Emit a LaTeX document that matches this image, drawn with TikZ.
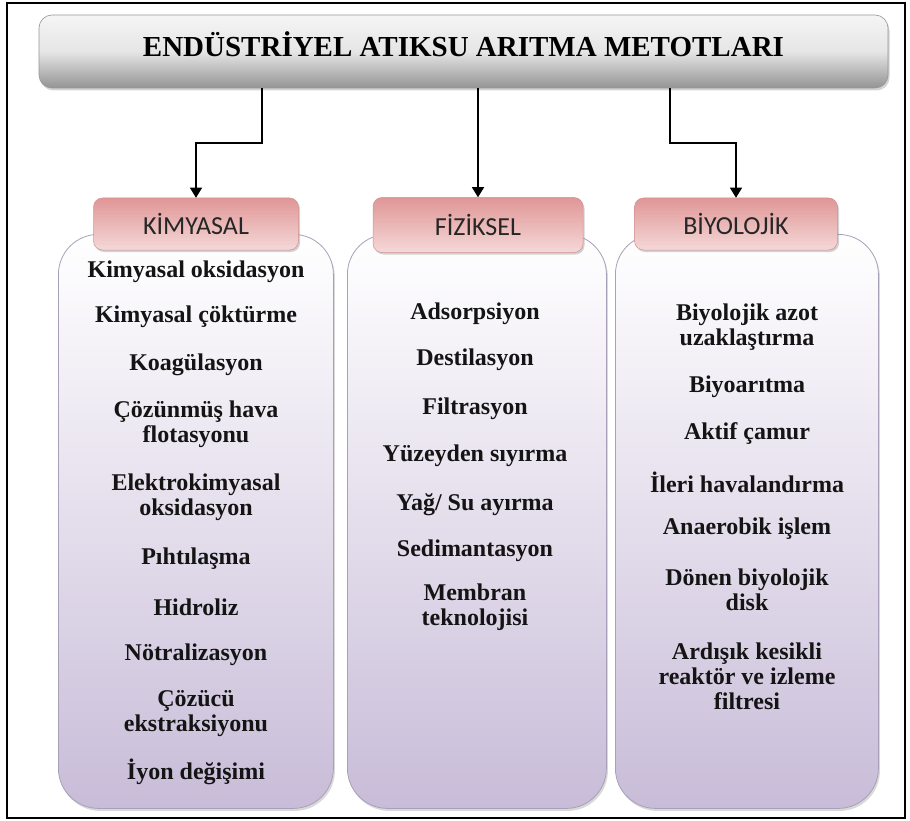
\documentclass[tikz,border=0pt]{standalone}
\usepackage{fontspec}
\setmainfont{Liberation Serif}
\newfontfamily\tabfont{Carlito}
\usetikzlibrary{shadows,arrows.meta}
\definecolor{lav}{RGB}{200,188,216}
\definecolor{lavmid}{RGB}{228,222,236}
\definecolor{lavline}{RGB}{168,160,184}
\definecolor{pinkA}{RGB}{224,150,150}
\definecolor{pinkB}{RGB}{245,216,216}
\definecolor{pinkline}{RGB}{210,145,145}
\definecolor{titleline}{RGB}{150,150,150}
\begin{document}
\begin{tikzpicture}[x=1pt,y=-1pt,
  frame/.style={draw=black,line width=1.1pt},
  titlebox/.style={draw=titleline,line width=0.6pt,rounded corners=13pt,
    top color=black!4,bottom color=black!42,middle color=black!10,
    drop shadow={shadow xshift=1.5pt,shadow yshift=-2.5pt,opacity=0.35},
    inner sep=0pt},
  colbox/.style={draw=lavline,line width=0.8pt,rounded corners=40pt,
    top color=white,bottom color=lav,middle color=lavmid,
    drop shadow={shadow xshift=1.5pt,shadow yshift=-2.5pt,opacity=0.3},
    inner sep=0pt},
  tabbox/.style={draw=pinkline,line width=0.5pt,rounded corners=9pt,
    top color=pinkA,bottom color=pinkB,
    drop shadow={shadow xshift=1.5pt,shadow yshift=-2pt,opacity=0.35},
    font=\tabfont\fontsize{26}{28}\selectfont,text=black!85,inner sep=0pt},
  item/.style={font=\fontsize{24}{25}\selectfont\bfseries,align=center,inner sep=0pt,text=black!92},
  arr/.style={draw=black,line width=1.2pt,-{Triangle[width=12pt,length=10pt]}}
]
\useasboundingbox (0,0) rectangle (910,821);
\draw[frame] (7,3) rectangle (905,818);

% title
\node[titlebox,minimum width=849pt,minimum height=73pt,text height=20pt] (title) at (463.5,51.5)
  {\raisebox{5pt}{\fontsize{29}{32}\selectfont\bfseries ENDÜSTRİYEL ATIKSU ARITMA METOTLARI}};

% columns
\node[colbox,anchor=north west,minimum width=275pt,minimum height=574pt] (colK) at (58,234) {};
\node[colbox,anchor=north west,minimum width=259pt,minimum height=574pt] (colF) at (347,234) {};
\node[colbox,anchor=north west,minimum width=263pt,minimum height=574pt] (colB) at (615,234) {};

% tabs
\node[tabbox,minimum width=205pt,minimum height=52pt] (kim) at (196,224) {KİMYASAL};
\node[tabbox,minimum width=210pt,minimum height=55pt] (fiz) at (478,225) {FİZİKSEL};
\node[tabbox,minimum width=203pt,minimum height=52pt] (bio) at (736,224) {BİYOLOJİK};

% connectors
\coordinate (bk) at (262,143);
\coordinate (bb) at (670,143);
\draw[arr] (title.south -| bk) -- (bk) -| (kim.north);
\draw[arr] (title.south -| fiz.north) -- (fiz.north);
\draw[arr] (title.south -| bb) -- (bb) -| (bio.north);

% left items
\node[item] (k1) at (196,272) {Kimyasal oksidasyon};
\node[item] (k2) at (196,317) {Kimyasal çöktürme};
\node[item] (k3) at (196,365) {Koagülasyon};
\node[item] (k4) at (196,424.5) {Çözünmüş hava\\flotasyonu};
\node[item] (k5) at (196,497.5) {Elektrokimyasal\\oksidasyon};
\node[item] (k6) at (196,559) {Pıhtılaşma};
\node[item] (k7) at (196,607) {Hidroliz};
\node[item] (k8) at (196,655) {Nötralizasyon};
\node[item] (k9) at (196,714) {Çözücü\\ekstraksiyonu};
\node[item] (k10) at (196,772) {İyon değişimi};

% middle items
\node[item] (f1) at (475,314) {Adsorpsiyon};
\node[item] (f2) at (475,360) {Destilasyon};
\node[item] (f3) at (475,409) {Filtrasyon};
\node[item] (f4) at (475,456) {Yüzeyden sıyırma};
\node[item] (f5) at (475,505) {Yağ/ Su ayırma};
\node[item] (f6) at (475,551) {Sedimantasyon};
\node[item] (f7) at (475,607.5) {Membran\\teknolojisi};

% right items
\node[item] (b1) at (747,327) {Biyolojik azot\\uzaklaştırma};
\node[item] (b2) at (747,387) {Biyoarıtma};
\node[item] (b3) at (747,434) {Aktif çamur};
\node[item] (b4) at (747,482) {İleri havalandırma};
\node[item] (b5) at (747,529) {Anaerobik işlem};
\node[item] (b6) at (747,589.5) {Dönen biyolojik\\disk};
\node[item] (b7) at (747,676) {Ardışık kesikli\\reaktör ve izleme\\filtresi};
\end{tikzpicture}
\end{document}
